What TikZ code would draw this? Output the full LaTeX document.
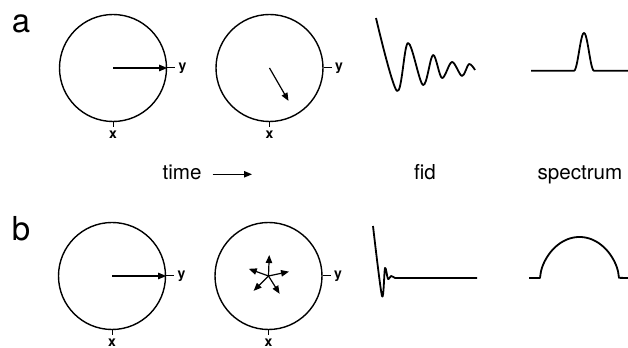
\documentclass[tikz,border=0pt]{standalone}
\usepackage{fontspec}
\setmainfont{TeX Gyre Heros}
\usepackage{tikz}
\usetikzlibrary{arrows.meta, positioning, calc}

\begin{document}
\begin{tikzpicture}[x=0.5pt, y=0.5pt,
  vec/.style={-{Triangle[length=4pt,width=3.2pt]}, line width=0.6pt},
  ring/.style={draw, circle, line width=0.7pt, minimum size=53.5pt, inner sep=0pt},
  axlbl/.style={font=\fontsize{7}{8}\selectfont\bfseries, inner sep=0.5pt},
  trace/.style={line width=0.9pt, line join=round},
  panel/.style={font=\fontsize{16.5}{18}\selectfont},
  lbl/.style={font=\fontsize{10.3}{12}\selectfont, anchor=base}]
  \useasboundingbox (0,0) rectangle (628,348);

  % panel letters
  \node[panel] (la) at (21,324.5) {a};
  \node[panel] (lb) at (21,119) {b};

  % rotating frame, row a and row b
  \node[ring] (ra1) at (113,280) {};
  \node[ring] (ra2) at (269.5,280) {};
  \node[ring] (rb1) at (112,72) {};
  \node[ring] (rb2) at (268.5,72) {};

  % axis ticks
  \foreach \r in {ra1,ra2,rb1,rb2} {
    \draw[line width=0.5pt] (\r.east) -- ++(8,0) coordinate (\r-ye);
    \node[axlbl, right=1pt of \r-ye] (\r-y) {y};
    \draw[line width=0.5pt] (\r.south) -- ++(0,-5) coordinate (\r-xe);
    \node[axlbl, below=1pt of \r-xe] (\r-x) {x};
  }

  % magnetisation vectors
  \draw[vec] (ra1.center) -- (ra1.east);
  \coordinate (ta2) at ($(ra2.center)+(-60:38)$);
  \draw[vec] (ra2.center) -- (ta2);
  \draw[vec] (rb1.center) -- (rb1.east);
  \foreach \a [count=\i] in {88,12,-58,-135,160} {
    \coordinate (s\i) at ($(rb2.center)+(\a:21)$);
    \draw[vec] (rb2.center) -- (s\i);
  }

  % captions
  \node[lbl] (time) at (182,168) {time};
  \coordinate (tend) at (252,173.7);
  \draw[vec, shorten <=2pt] (time.east |- tend) -- (tend);
  \node[lbl] (fid) at (425,168) {fid};
  \node[lbl] (spec) at (580,168) {spectrum};

  % a: slow decay, narrow line
  \draw[trace] plot[smooth, tension=0.55] coordinates {(376,330) (397,257) (408,305) (423,263) (433,293) (442,270) (452,286) (462,272) (469,284) (475,278)};
  \draw[trace] (531,277.3) -- (574,277.3) -- plot[domain=574:594, samples=40] (\x, {277.3+37.7*cos(9*(\x-584))^2}) -- (628,277.3);

  % b: fast decay, broad line
  \draw[trace] plot[smooth, tension=0.5] coordinates {(373,122) (382,52) (385,80) (388,69) (391,72) (395,70)} -- (477,70);
  \draw[trace] (529,70) -- (540,70) -- plot[domain=540:619, samples=80] (\x, {70+41*(max(1-((\x-579.5)/39.5)^2,0.0001))^0.6}) -- (628,70);
\end{tikzpicture}
\end{document}
